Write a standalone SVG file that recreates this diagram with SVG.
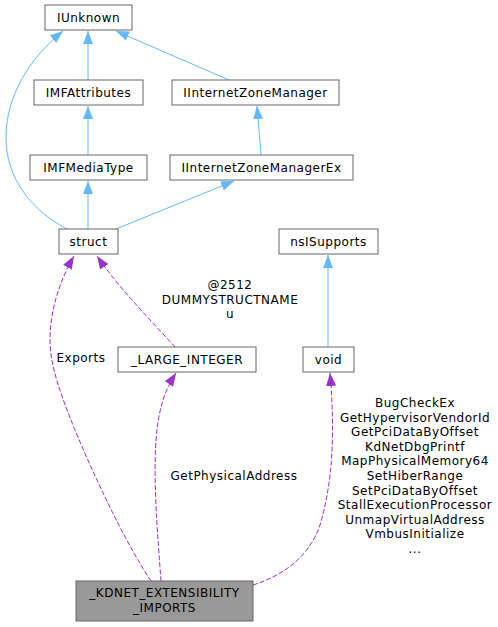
<svg xmlns="http://www.w3.org/2000/svg" width="498" height="627" viewBox="0 0 498 627">
<style>
text{font-family:"DejaVu Sans",sans-serif;font-size:12px;letter-spacing:0.5px;fill:#000}
.n{fill:#fff;stroke:#666;stroke-width:1}
.cur{fill:#999;stroke:#666;stroke-width:1}
.b{fill:none;stroke:#63b8ff;stroke-width:1}
.p{fill:none;stroke:#9a32cd;stroke-width:1;stroke-dasharray:5,2}
</style>
<defs>
<marker id="ab" markerUnits="userSpaceOnUse" markerWidth="14" markerHeight="11" viewBox="0 0 14 11" refX="13" refY="5.5" orient="auto"><path d="M0,0.5 L13,5.5 L0,10.5 Z" fill="#63b8ff"/></marker>
<marker id="ap" markerUnits="userSpaceOnUse" markerWidth="14" markerHeight="11" viewBox="0 0 14 11" refX="13" refY="5.5" orient="auto"><path d="M0,0.5 L13,5.5 L0,10.5 Z" fill="#9a32cd"/></marker>
</defs>
<g id="edges">
<path class="b" marker-end="url(#ab)" d="M88,80 L88,31"/>
<path class="b" marker-end="url(#ab)" d="M229,80 L116,31"/>
<path class="b" marker-end="url(#ab)" d="M67,229 C34,212 6,180 6,138 C6,95 30,58 63,31"/>
<path class="b" marker-end="url(#ab)" d="M88,155 L88,106"/>
<path class="b" marker-end="url(#ab)" d="M261,155 L257,106"/>
<path class="b" marker-end="url(#ab)" d="M88,229 L88,181"/>
<path class="b" marker-end="url(#ab)" d="M116,229 L234,181"/>
<path class="b" marker-end="url(#ab)" d="M328,347 L328,255"/>
<path class="p" marker-end="url(#ap)" d="M151,581 C130,550 100,490 75,430 C60,393 50,365 50,340 C50,310 60,280 74,256"/>
<path class="p" marker-end="url(#ap)" d="M175,347 C160,330 120,290 97,256"/>
<path class="p" marker-end="url(#ap)" d="M161,581 C158,540 152,470 157,430 C160,405 165,390 176,373"/>
<path class="p" marker-end="url(#ap)" d="M253,585 C285,575 310,555 320,525 C335,475 334,420 330,373"/>
<text x="81" y="362" text-anchor="middle">Exports</text>
<text x="230" y="289" text-anchor="middle">@2512</text>
<text x="230" y="303.5" text-anchor="middle">DUMMYSTRUCTNAME</text>
<text x="230" y="318" text-anchor="middle">u</text>
<text x="234" y="480" text-anchor="middle">GetPhysicalAddress</text>
<g text-anchor="middle">
<text x="415" y="407">BugCheckEx</text>
<text x="415" y="421.6">GetHypervisorVendorId</text>
<text x="415" y="436.2">GetPciDataByOffset</text>
<text x="415" y="450.8">KdNetDbgPrintf</text>
<text x="415" y="465.4">MapPhysicalMemory64</text>
<text x="415" y="480">SetHiberRange</text>
<text x="415" y="494.6">SetPciDataByOffset</text>
<text x="415" y="509.2">StallExecutionProcessor</text>
<text x="415" y="523.8">UnmapVirtualAddress</text>
<text x="415" y="538.4">VmbusInitialize</text>
<text x="415" y="553">...</text>
</g>
</g>
<g id="IUnknown"><rect class="n" x="45" y="5" width="87" height="25"/><text x="88.5" y="21.5" text-anchor="middle">IUnknown</text></g>
<g id="IMFAttributes"><rect class="n" x="34" y="80" width="109" height="25"/><text x="88.5" y="96.5" text-anchor="middle">IMFAttributes</text></g>
<g id="IInternetZoneManager"><rect class="n" x="172" y="80" width="167" height="25"/><text x="255.5" y="96.5" text-anchor="middle">IInternetZoneManager</text></g>
<g id="IMFMediaType"><rect class="n" x="30" y="155" width="117" height="25"/><text x="88.5" y="171.5" text-anchor="middle">IMFMediaType</text></g>
<g id="IInternetZoneManagerEx"><rect class="n" x="170" y="155" width="183" height="25"/><text x="261.5" y="171.5" text-anchor="middle">IInternetZoneManagerEx</text></g>
<g id="struct"><rect class="n" x="59" y="229" width="59" height="25"/><text x="88.5" y="245.5" text-anchor="middle">struct</text></g>
<g id="nsISupports"><rect class="n" x="279" y="229" width="99" height="25"/><text x="328.5" y="245.5" text-anchor="middle">nsISupports</text></g>
<g id="void"><rect class="n" x="303" y="347" width="51" height="25"/><text x="328.5" y="363.5" text-anchor="middle">void</text></g>
<g id="LARGE_INTEGER"><rect class="n" x="118" y="347" width="138" height="25"/><text x="187" y="363.5" text-anchor="middle">_LARGE_INTEGER</text></g>
<g id="KDNET_EXTENSIBILITY_IMPORTS"><rect class="cur" x="76" y="581" width="177" height="40"/><text x="164.5" y="597" text-anchor="middle">_KDNET_EXTENSIBILITY</text><text x="164.5" y="612" text-anchor="middle">_IMPORTS</text></g>
</svg>
